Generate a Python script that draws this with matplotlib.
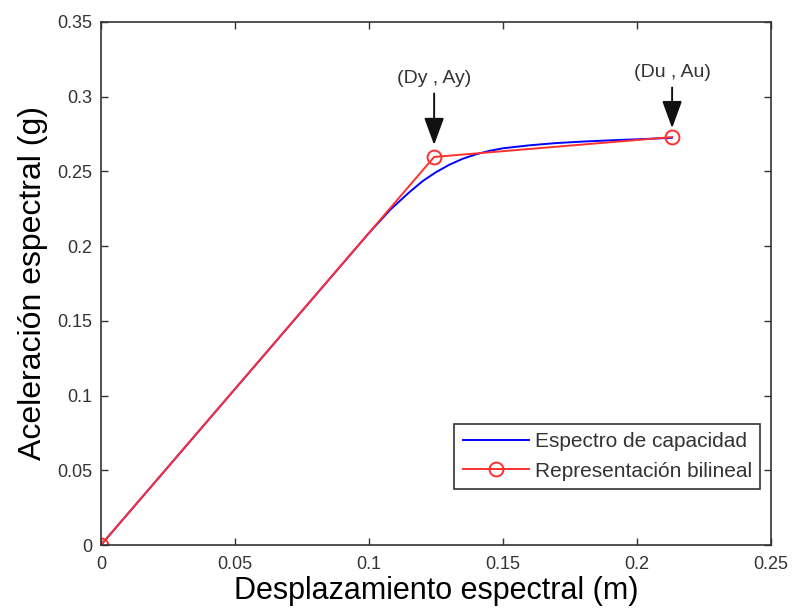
import numpy as np
import matplotlib
matplotlib.use('Agg')
import matplotlib.pyplot as plt

plt.rcParams['font.family'] = ['Liberation Sans', 'DejaVu Sans']

# capacity spectrum
sd_cap = [0, 0.05, 0.1, 0.108, 0.115, 0.12, 0.125, 0.13, 0.135, 0.14, 0.145,
          0.15, 0.16, 0.17, 0.18, 0.19, 0.2, 0.213]
sa_cap = [0, 0.1044, 0.2088, 0.2245, 0.236, 0.2435, 0.2495, 0.2545, 0.2585,
          0.2615, 0.2638, 0.2655, 0.2675, 0.269, 0.270, 0.2708, 0.2715, 0.2725]

# bilinear representation
sd_bil = [0, 0.1243, 0.2131]
sa_bil = [0, 0.2597, 0.2730]

xticks = [0, 0.05, 0.1, 0.15, 0.2, 0.25]
yticks = [0, 0.05, 0.1, 0.15, 0.2, 0.25, 0.3, 0.35]

fig = plt.figure(figsize=(7.95, 6.14), dpi=100)
ax = fig.add_axes([101 / 795, 69 / 614, 670 / 795, 523 / 614])

ax.plot(sd_cap, sa_cap, color='#0000ff', lw=1.4, label='Espectro de capacidad')
ax.plot(sd_bil, sa_bil, color='#ff3030', lw=1.4, marker='o', ms=10, mew=1.4,
        mfc='none', mec='#ff3030', label='Representación bilineal')

ax.set_xlim(0, 0.25)
ax.set_ylim(0, 0.35)
ax.set_xticks(xticks)
ax.set_yticks(yticks)
ax.set_xticklabels([f'{v:g}' for v in xticks])
ax.set_yticklabels([f'{v:g}' for v in yticks])
ax.tick_params(direction='in', top=True, right=True, labelsize=13, length=5,
               colors='#333333', width=1.0)
ax.tick_params(axis='x', pad=8)
ax.tick_params(axis='y', pad=6)
for s in ax.spines.values():
    s.set_color('#333333')
    s.set_linewidth(1.2)

ax.set_xlabel('Desplazamiento espectral (m)', fontsize=22, labelpad=2)
ax.set_ylabel('Aceleración espectral (g)', fontsize=23, labelpad=7)

ann = dict(arrowstyle='-|>,head_width=0.44,head_length=1.2', color='#111111',
           lw=1.4, shrinkA=3, shrinkB=0)
ax.annotate('(Dy , Ay)', xy=(sd_bil[1], 0.2677), xytext=(sd_bil[1], 0.3125),
            ha='center', va='center', fontsize=14, color='#333333',
            arrowprops=ann)
ax.annotate('(Du , Au)', xy=(sd_bil[2], 0.279), xytext=(sd_bil[2], 0.3165),
            ha='center', va='center', fontsize=14, color='#333333',
            arrowprops=ann)

leg = ax.legend(loc='lower right', bbox_to_anchor=(0.9836, 0.107), fontsize=15,
                fancybox=False, edgecolor='#333333', framealpha=1,
                handlelength=3.2, borderpad=0.4, handletextpad=0.25,
                labelspacing=0.5, borderaxespad=0)
leg.get_frame().set_linewidth(1.2)
for t in leg.get_texts():
    t.set_color('#333333')

fig.savefig('out.png', dpi=100)
